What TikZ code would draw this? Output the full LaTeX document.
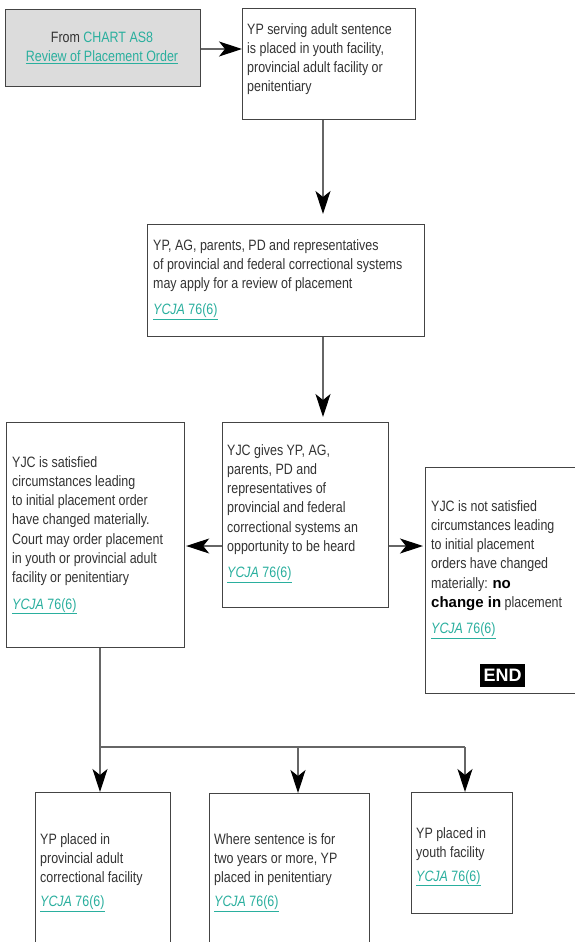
\documentclass[tikz,border=0pt]{standalone}
\usepackage{fontspec}
\setmainfont{Liberation Sans}[FakeStretch=0.83]
\newfontfamily\widesans{Liberation Sans}
\usetikzlibrary{arrows.meta,calc}
\definecolor{txtgray}{HTML}{333333}
\definecolor{tealc}{HTML}{2AAF9E}
\definecolor{boxline}{HTML}{444444}
\definecolor{linegray}{HTML}{666666}
\definecolor{srcfill}{HTML}{DCDCDC}
\newcommand{\ycjaref}{{\color{tealc}\underline{\textit{YCJA} 76(6)}}}
\newcommand{\bwide}[1]{{\widesans\bfseries\color{black}#1}}
\tikzset{
  box/.style={draw=boxline, line width=1.2pt, anchor=north west, inner sep=0pt, fill=white},
  txt/.style={anchor=north west, inner sep=0pt, align=left, text=txtgray, font=\fontsize{15}{19.3}\selectfont},
  arr/.style={draw=linegray, line width=1.1pt, -{Stealth[length=23pt,width=15pt,inset=6pt,color=black]}},
  conn/.style={draw=linegray, line width=1.1pt},
  endbox/.style={fill=black, text=white, inner sep=0pt, minimum width=45pt, minimum height=23pt, font=\widesans\bfseries\fontsize{18}{18}\selectfont}
}
\begin{document}
\begin{tikzpicture}[x=1pt,y=-1pt]
\useasboundingbox (0,0) rectangle (575,942);
\clip (0,0) rectangle (575,942);
% boxes
\node[box, fill=srcfill, minimum width=195pt, minimum height=77pt] (src) at (5,9) {};
\node[box, minimum width=173pt, minimum height=111pt] (b1) at (242,8) {};
\node[box, minimum width=277pt, minimum height=112pt] (b2) at (147,224) {};
\node[box, minimum width=166pt, minimum height=185pt] (mid) at (222,422) {};
\node[box, minimum width=178pt, minimum height=225pt] (lft) at (6,422) {};
\node[box, minimum width=170pt, minimum height=226pt] (rgt) at (425,467) {};
\node[box, minimum width=135pt, minimum height=170pt] (ba) at (35,792) {};
\node[box, minimum width=160pt, minimum height=170pt] (bb) at (209,793) {};
\node[box, minimum width=101pt, minimum height=121pt] (bc) at (411,792) {};
% texts
\node[txt, anchor=center, align=center] (srct) at (102,47.5) {From {\color{tealc}CHART AS8}\\{\color{tealc}\underline{Review of Placement Order}}};
\node[txt] (b1t) at (247,23) {YP serving adult sentence\\is placed in youth facility,\\provincial adult facility or\\penitentiary};
\node[txt] (b2t) at (153,239) {YP, AG, parents, PD and representatives\\of provincial and federal correctional systems\\may apply for a review of placement\\[7pt]\ycjaref};
\node[txt] (midt) at (227,444) {YJC gives YP, AG,\\parents, PD and\\representatives of\\provincial and federal\\correctional systems an\\opportunity to be heard\\[7pt]\ycjaref};
\node[txt] (lftt) at (12,456) {YJC is satisfied\\circumstances leading\\to initial placement order\\have changed materially.\\Court may order placement\\in youth or provincial adult\\facility or penitentiary\\[7pt]\ycjaref};
\node[txt] (rgtt) at (431,500) {YJC is not satisfied\\circumstances leading\\to initial placement\\orders have changed\\materially: \bwide{no}\\\bwide{change in} placement\\[7pt]\ycjaref};
\node[endbox, anchor=north west] (endn) at (480,664) {END};
\node[txt] (bat) at (40,833) {YP placed in\\provincial adult\\correctional facility\\[4.5pt]\ycjaref};
\node[txt] (bbt) at (214,833) {Where sentence is for\\two years or more, YP\\placed in penitentiary\\[4.5pt]\ycjaref};
\node[txt] (bct) at (416,827) {YP placed in\\youth facility\\[4.5pt]\ycjaref};
% helper coordinates
\coordinate (ya) at (0,49);
\coordinate (xa) at (323,0);
\coordinate (yh) at (0,546);
\coordinate (xl) at (100,0);
\coordinate (xm) at (298,0);
\coordinate (xr) at (465,0);
\coordinate (yb) at (0,747);
% connectors
\draw[arr] (src.east |- ya) -- (b1.west |- ya);
\draw[arr, shorten >=10pt] (b1.south -| xa) -- (b2.north -| xa);
\draw[arr, shorten >=5pt] (b2.south -| xa) -- (mid.north -| xa);
\draw[arr, shorten >=1pt] (mid.west |- yh) -- (lft.east |- yh);
\draw[arr, shorten >=2pt] (mid.east |- yh) -- (rgt.west |- yh);
\draw[conn] (lft.south -| xl) -- (xl |- yb);
\draw[conn] (xl |- yb) -- (xr |- yb);
\draw[arr] (xl |- yb) -- (ba.north -| xl);
\draw[arr] (xm |- yb) -- (bb.north -| xm);
\draw[arr] (xr |- yb) -- (bc.north -| xr);
\end{tikzpicture}
\end{document}
